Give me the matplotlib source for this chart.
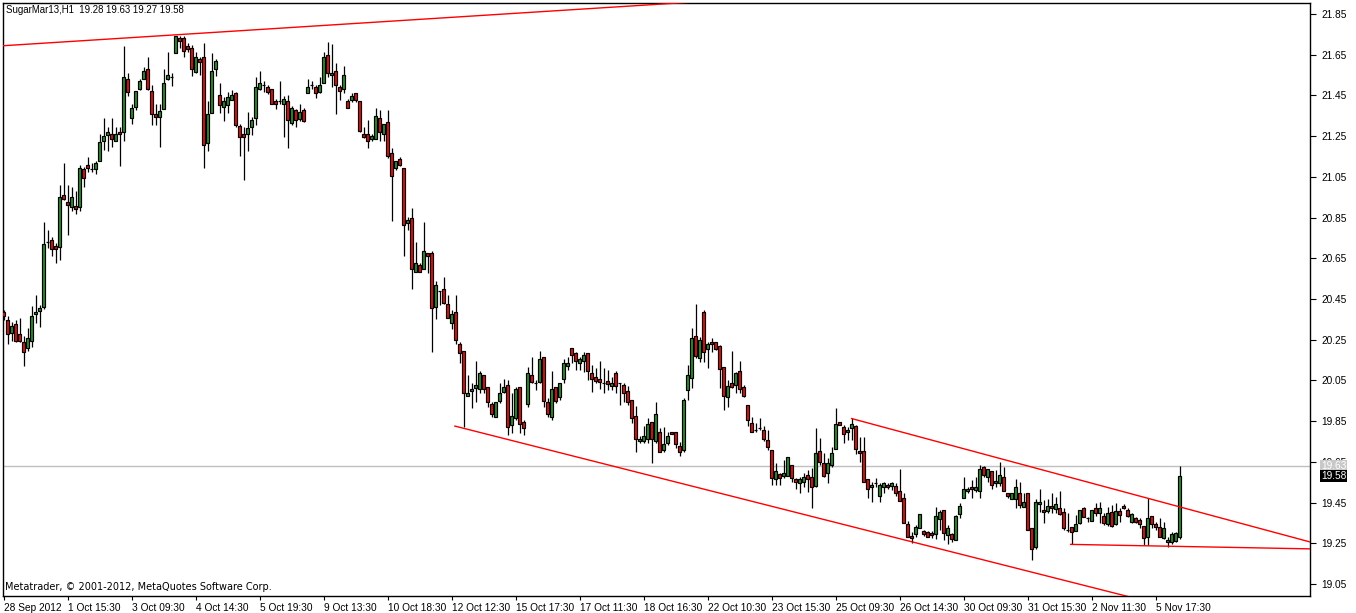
import matplotlib
matplotlib.use("Agg")
import matplotlib.pyplot as plt
import matplotlib.transforms as mtransforms
import numpy as np

# ---------------- data ----------------
symbol_title = "SugarMar13,H1  19.28 19.63 19.27 19.58"
copyright_text = "Metatrader, \u00a9 2001-2012, MetaQuotes Software Corp."

opens = [
    20.388, 20.347, 20.284, 20.325, 20.278, 20.237, 20.208, 20.245, 20.375, 20.393,
    20.412, 20.729, 20.740, 20.710, 20.707, 20.961, 20.926, 20.903, 20.907, 20.903,
    21.087, 21.106, 21.087, 21.087, 21.126, 21.228, 21.257, 21.259, 21.227, 21.270,
    21.268, 21.529, 21.337, 21.394, 21.480, 21.529, 21.578, 21.470, 21.357, 21.345,
    21.385, 21.529, 21.539, 21.660, 21.732, 21.730, 21.692, 21.681, 21.566, 21.627,
    21.637, 21.218, 21.365, 21.578, 21.450, 21.394, 21.404, 21.430, 21.460, 21.300,
    21.260, 21.259, 21.296, 21.337, 21.480, 21.500, 21.489, 21.480, 21.422, 21.422,
    21.406, 21.422, 21.316, 21.378, 21.335, 21.378, 21.460, 21.501, 21.489, 21.468,
    21.509, 21.647, 21.548, 21.568, 21.489, 21.480, 21.422, 21.427, 21.460, 21.422,
    21.259, 21.259, 21.237, 21.237, 21.337, 21.259, 21.319, 21.165, 21.095, 21.136,
    21.096, 20.825, 20.846, 20.584, 20.617, 20.596, 20.674, 20.674, 20.412, 20.488,
    20.497, 20.425, 20.334, 20.384, 20.229, 20.195, 19.975, 19.997, 20.015, 20.006,
    20.075, 20.016, 19.933, 19.872, 19.951, 19.995, 20.028, 19.832, 19.864, 20.016,
    19.844, 19.933, 20.075, 20.036, 20.044, 20.164, 19.943, 19.872, 20.016, 19.967,
    20.056, 20.123, 20.208, 20.183, 20.134, 20.144, 20.183, 20.085, 20.065, 20.056,
    20.036, 20.047, 20.024, 20.085, 20.036, 20.026, 19.998, 19.954, 19.875, 19.754,
    19.754, 19.765, 19.844, 19.754, 19.795, 19.711, 19.744, 19.795, 19.795, 19.728,
    19.708, 20.001, 20.063, 20.268, 20.162, 20.386, 20.207, 20.240, 20.237, 20.219,
    20.114, 19.967, 20.036, 20.027, 20.096, 20.019, 19.932, 19.842, 19.806, 19.815,
    19.806, 19.757, 19.711, 19.564, 19.593, 19.582, 19.582, 19.634, 19.564, 19.545,
    19.553, 19.585, 19.574, 19.533, 19.704, 19.646, 19.594, 19.635, 19.712, 19.844,
    19.823, 19.795, 19.815, 19.826, 19.704, 19.704, 19.564, 19.525, 19.545, 19.484,
    19.525, 19.537, 19.533, 19.533, 19.507, 19.471, 19.343, 19.286, 19.294, 19.324,
    19.312, 19.304, 19.302, 19.294, 19.370, 19.414, 19.291, 19.294, 19.266, 19.392,
    19.471, 19.507, 19.525, 19.512, 19.507, 19.623, 19.574, 19.605, 19.545, 19.545,
    19.574, 19.496, 19.466, 19.466, 19.499, 19.430, 19.499, 19.324, 19.231, 19.442,
    19.414, 19.409, 19.433, 19.417, 19.422, 19.404, 19.316, 19.329, 19.312, 19.352,
    19.422, 19.373, 19.361, 19.422, 19.401, 19.384, 19.345, 19.405, 19.345, 19.410,
    19.433, 19.414, 19.353, 19.376, 19.365, 19.335, 19.283, 19.384, 19.345, 19.332,
    19.275, 19.255, 19.255, 19.263, 19.28,
]

highs = [
    20.396, 20.368, 20.339, 20.347, 20.357, 20.268, 20.306, 20.415, 20.469, 20.420,
    20.830, 20.789, 20.756, 20.723, 21.010, 21.116, 21.010, 21.002, 20.980, 21.108,
    21.100, 21.146, 21.116, 21.128, 21.260, 21.337, 21.296, 21.337, 21.296, 21.296,
    21.692, 21.561, 21.408, 21.470, 21.529, 21.588, 21.637, 21.501, 21.408, 21.408,
    21.578, 21.663, 21.561, 21.742, 21.742, 21.742, 21.706, 21.697, 21.665, 21.637,
    21.709, 21.424, 21.660, 21.630, 21.509, 21.444, 21.468, 21.476, 21.468, 21.308,
    21.296, 21.370, 21.342, 21.539, 21.570, 21.522, 21.501, 21.480, 21.432, 21.520,
    21.448, 21.452, 21.398, 21.383, 21.408, 21.390, 21.529, 21.520, 21.501, 21.539,
    21.663, 21.710, 21.702, 21.607, 21.501, 21.597, 21.432, 21.460, 21.463, 21.422,
    21.296, 21.329, 21.259, 21.386, 21.378, 21.308, 21.378, 21.190, 21.127, 21.146,
    21.096, 20.854, 20.895, 20.730, 20.625, 20.828, 20.677, 20.687, 20.540, 20.488,
    20.556, 20.468, 20.396, 20.468, 20.237, 20.195, 20.077, 20.036, 20.147, 20.098,
    20.075, 20.016, 19.943, 19.943, 20.036, 20.056, 20.052, 19.987, 20.016, 20.016,
    19.856, 20.115, 20.164, 20.052, 20.195, 20.164, 19.962, 20.098, 20.016, 20.036,
    20.154, 20.164, 20.208, 20.191, 20.167, 20.191, 20.183, 20.126, 20.110, 20.147,
    20.109, 20.101, 20.065, 20.098, 20.036, 20.036, 20.022, 19.954, 19.924, 19.777,
    19.826, 19.864, 19.847, 19.942, 19.815, 19.823, 19.798, 19.795, 19.795, 19.749,
    19.962, 20.126, 20.309, 20.425, 20.265, 20.396, 20.240, 20.257, 20.240, 20.224,
    20.114, 20.052, 20.194, 20.093, 20.145, 20.027, 19.932, 19.872, 19.839, 19.864,
    19.826, 19.806, 19.711, 19.643, 19.597, 19.659, 19.672, 19.634, 19.572, 19.577,
    19.594, 19.610, 19.618, 19.815, 19.766, 19.692, 19.667, 19.725, 19.913, 19.844,
    19.831, 19.823, 19.864, 19.831, 19.774, 19.774, 19.564, 19.553, 19.569, 19.545,
    19.553, 19.545, 19.553, 19.545, 19.615, 19.496, 19.361, 19.307, 19.340, 19.392,
    19.315, 19.312, 19.312, 19.430, 19.414, 19.414, 19.340, 19.302, 19.389, 19.446,
    19.574, 19.525, 19.561, 19.574, 19.635, 19.630, 19.613, 19.605, 19.610, 19.648,
    19.623, 19.499, 19.499, 19.564, 19.553, 19.496, 19.499, 19.324, 19.466, 19.515,
    19.463, 19.466, 19.499, 19.476, 19.509, 19.422, 19.397, 19.329, 19.389, 19.414,
    19.427, 19.381, 19.414, 19.450, 19.455, 19.397, 19.430, 19.438, 19.446, 19.422,
    19.443, 19.422, 19.397, 19.381, 19.373, 19.335, 19.471, 19.384, 19.356, 19.373,
    19.356, 19.279, 19.307, 19.307, 19.63,
]

lows = [
    20.347, 20.227, 20.245, 20.237, 20.237, 20.122, 20.196, 20.216, 20.334, 20.314,
    20.400, 20.699, 20.661, 20.625, 20.641, 20.936, 20.764, 20.884, 20.866, 20.882,
    20.998, 21.075, 21.075, 21.064, 21.126, 21.182, 21.178, 21.198, 21.227, 21.105,
    21.226, 21.448, 21.308, 21.378, 21.476, 21.529, 21.476, 21.304, 21.304, 21.198,
    21.385, 21.525, 21.498, 21.660, 21.681, 21.637, 21.663, 21.545, 21.561, 21.550,
    21.096, 21.178, 21.365, 21.545, 21.365, 21.326, 21.365, 21.430, 21.296, 21.154,
    21.034, 21.178, 21.255, 21.304, 21.476, 21.468, 21.457, 21.406, 21.385, 21.406,
    21.247, 21.190, 21.304, 21.296, 21.326, 21.318, 21.460, 21.480, 21.439, 21.460,
    21.509, 21.539, 21.489, 21.357, 21.430, 21.460, 21.386, 21.419, 21.419, 21.272,
    21.239, 21.190, 21.228, 21.237, 21.228, 21.228, 21.144, 20.835, 21.083, 21.103,
    20.663, 20.789, 20.497, 20.584, 20.584, 20.596, 20.576, 20.191, 20.353, 20.420,
    20.425, 20.355, 20.302, 20.229, 20.134, 19.823, 19.975, 19.913, 19.943, 19.987,
    19.990, 19.921, 19.872, 19.872, 19.938, 19.987, 19.782, 19.790, 19.856, 19.790,
    19.782, 19.921, 20.036, 20.003, 20.036, 19.921, 19.872, 19.856, 19.938, 19.954,
    20.036, 20.102, 20.134, 20.102, 20.102, 20.093, 20.052, 19.995, 20.036, 20.006,
    19.987, 20.003, 20.003, 19.987, 19.929, 19.946, 19.932, 19.839, 19.700, 19.744,
    19.744, 19.744, 19.643, 19.744, 19.700, 19.700, 19.733, 19.785, 19.716, 19.679,
    19.700, 19.954, 20.011, 20.158, 20.142, 20.142, 20.109, 20.191, 20.199, 20.011,
    19.905, 19.921, 20.011, 19.987, 19.987, 19.970, 19.826, 19.795, 19.798, 19.806,
    19.754, 19.708, 19.536, 19.536, 19.536, 19.569, 19.582, 19.549, 19.517, 19.495,
    19.528, 19.504, 19.422, 19.525, 19.635, 19.574, 19.545, 19.627, 19.712, 19.833,
    19.741, 19.758, 19.758, 19.689, 19.651, 19.553, 19.471, 19.451, 19.525, 19.451,
    19.496, 19.515, 19.512, 19.484, 19.460, 19.352, 19.280, 19.250, 19.280, 19.324,
    19.286, 19.280, 19.275, 19.270, 19.316, 19.266, 19.247, 19.258, 19.266, 19.373,
    19.471, 19.496, 19.471, 19.504, 19.471, 19.574, 19.553, 19.515, 19.525, 19.532,
    19.507, 19.471, 19.466, 19.422, 19.422, 19.430, 19.316, 19.168, 19.221, 19.406,
    19.352, 19.398, 19.398, 19.398, 19.389, 19.316, 19.307, 19.245, 19.312, 19.345,
    19.378, 19.356, 19.361, 19.384, 19.352, 19.340, 19.335, 19.329, 19.340, 19.357,
    19.417, 19.381, 19.351, 19.351, 19.324, 19.242, 19.242, 19.324, 19.316, 19.283,
    19.270, 19.230, 19.245, 19.258, 19.27,
]

closes = [
    20.366, 20.276, 20.317, 20.245, 20.245, 20.191, 20.257, 20.366, 20.388, 20.407,
    20.720, 20.730, 20.695, 20.697, 20.949, 20.939, 20.913, 20.949, 20.893, 21.096,
    21.044, 21.096, 21.087, 21.116, 21.219, 21.250, 21.268, 21.237, 21.259, 21.259,
    21.539, 21.468, 21.386, 21.470, 21.520, 21.568, 21.480, 21.357, 21.345, 21.376,
    21.511, 21.550, 21.539, 21.742, 21.719, 21.670, 21.679, 21.578, 21.637, 21.614,
    21.209, 21.357, 21.568, 21.617, 21.404, 21.422, 21.442, 21.452, 21.304, 21.247,
    21.247, 21.288, 21.329, 21.489, 21.509, 21.501, 21.466, 21.406, 21.406, 21.422,
    21.432, 21.329, 21.386, 21.329, 21.367, 21.326, 21.489, 21.501, 21.460, 21.501,
    21.637, 21.558, 21.558, 21.499, 21.470, 21.548, 21.386, 21.448, 21.427, 21.277,
    21.247, 21.228, 21.250, 21.349, 21.268, 21.308, 21.154, 21.056, 21.127, 21.106,
    20.816, 20.838, 20.596, 20.625, 20.584, 20.686, 20.663, 20.404, 20.517, 20.488,
    20.432, 20.355, 20.375, 20.248, 20.183, 19.987, 19.987, 20.008, 20.028, 20.085,
    20.006, 19.943, 19.884, 19.943, 19.987, 20.016, 19.823, 19.876, 20.008, 19.835,
    19.815, 20.085, 20.044, 20.036, 20.155, 19.951, 19.884, 20.006, 19.951, 20.036,
    20.135, 20.138, 20.174, 20.144, 20.155, 20.174, 20.095, 20.056, 20.046, 20.044,
    20.036, 20.034, 20.036, 20.024, 20.036, 19.987, 19.942, 19.864, 19.765, 19.765,
    19.777, 19.834, 19.765, 19.885, 19.700, 19.737, 19.777, 19.785, 19.736, 19.700,
    19.954, 20.077, 20.257, 20.171, 20.248, 20.191, 20.229, 20.227, 20.207, 20.104,
    19.975, 20.024, 20.016, 20.085, 20.006, 19.975, 19.856, 19.795, 19.806, 19.815,
    19.765, 19.724, 19.572, 19.605, 19.572, 19.594, 19.672, 19.572, 19.553, 19.564,
    19.574, 19.564, 19.525, 19.695, 19.651, 19.582, 19.646, 19.692, 19.834, 19.833,
    19.785, 19.807, 19.834, 19.712, 19.692, 19.553, 19.515, 19.537, 19.545, 19.537,
    19.545, 19.525, 19.545, 19.496, 19.460, 19.352, 19.283, 19.275, 19.332, 19.392,
    19.294, 19.283, 19.293, 19.384, 19.402, 19.302, 19.324, 19.271, 19.384, 19.433,
    19.515, 19.515, 19.515, 19.525, 19.613, 19.586, 19.613, 19.537, 19.556, 19.586,
    19.507, 19.484, 19.499, 19.525, 19.438, 19.455, 19.316, 19.221, 19.455, 19.455,
    19.402, 19.433, 19.422, 19.443, 19.393, 19.324, 19.316, 19.307, 19.345, 19.414,
    19.381, 19.373, 19.414, 19.401, 19.422, 19.352, 19.397, 19.335, 19.410, 19.389,
    19.422, 19.384, 19.392, 19.357, 19.345, 19.275, 19.373, 19.345, 19.332, 19.283,
    19.324, 19.266, 19.294, 19.302, 19.58,
]

time_labels = [
    "28 Sep 2012", "1 Oct 15:30", "3 Oct 09:30", "4 Oct 14:30", "5 Oct 19:30",
    "9 Oct 13:30", "10 Oct 18:30", "12 Oct 12:30", "15 Oct 17:30", "17 Oct 11:30",
    "18 Oct 16:30", "22 Oct 10:30", "23 Oct 15:30", "25 Oct 09:30", "26 Oct 14:30",
    "30 Oct 09:30", "31 Oct 15:30", "2 Nov 11:30", "5 Nov 17:30",
]
label_every = 16  # bars between time labels

price_ticks = [19.05, 19.25, 19.45, 19.65, 19.85, 20.05, 20.25, 20.45, 20.65,
               20.85, 21.05, 21.25, 21.45, 21.65, 21.85]

# trend lines: (bar index, price) anchor pairs, drawn as rays to the right
trend_lines = [
    ((-1.0, 21.693), (163.0, 21.897)),
    ((112.8, 19.826), (279.1, 18.999)),
    ((212.0, 19.863), (326.6, 19.257)),
    ((266.75, 19.245), (326.6, 19.223)),
]
ask_price = 19.63
bid_price = 19.58

# ---------------- drawing ----------------
LAB_FONT = ["Liberation Sans", "DejaVu Sans"]
W, H = 1356, 613
fig = plt.figure(figsize=(W / 100, H / 100), dpi=100)
left, right, top, bottom = 2.5, 1310, 3, 596
ax = fig.add_axes([left / W, 1 - bottom / H, (right - left) / W, (bottom - top) / H])

n = min(len(opens), len(highs), len(lows), len(closes))
x = np.arange(n)
o = np.array(opens[:n]); h = np.array(highs[:n]); l = np.array(lows[:n]); c = np.array(closes[:n])

ax.axhline(ask_price, color="#c0c0c0", lw=1.0, zorder=1)

ax.vlines(x, l, h, color="black", lw=0.9, zorder=2)
bull = c >= o
body_h = np.where(np.abs(c - o) < 1e-9, 0.0, c - o)
colors = np.where(bull, "#2e8b2e", "#e01010")
ax.bar(x, body_h, bottom=o, width=0.72, color=colors, edgecolor="black",
       linewidth=0.85, zorder=3)

xmin, xmax = -0.3, 326.6
for (x0, y0), (x1, y1) in trend_lines:
    slope = (y1 - y0) / (x1 - x0)
    xe = xmax + 2
    ax.plot([x0, xe], [y0, y0 + slope * (xe - x0)], color="red", lw=1.0, zorder=4)

ax.set_xlim(xmin, xmax)
ax.set_ylim(18.9915, 21.904)

ax.yaxis.tick_right()
ax.set_yticks(price_ticks)
ax.set_yticklabels([f"{v:.2f}" for v in price_ticks], family=LAB_FONT)
ax.tick_params(axis="y", direction="out", length=4, width=0.8, pad=4,
               labelsize=7.3, colors="black")

xt = [i * label_every for i in range(len(time_labels))]
ax.set_xticks(xt)
ax.set_xticklabels(time_labels, family=LAB_FONT)
for lab in ax.get_xticklabels():
    lab.set_ha("left")
ax.tick_params(axis="x", direction="out", length=3, width=0.8, pad=2,
               labelsize=7.3, colors="black")

for sp in ax.spines.values():
    sp.set_color("black")
    sp.set_linewidth(1.0)

trans = mtransforms.blended_transform_factory(ax.transAxes, ax.transData)
ax.text(1.0085, ask_price, f"{ask_price:.2f}", transform=trans, fontsize=7.3,
        family=LAB_FONT, color="white", va="center", ha="left", clip_on=False,
        zorder=10, bbox=dict(facecolor="#c8c8c8", edgecolor="none", pad=0.6))
ax.text(1.0085, bid_price, f"{bid_price:.2f}", transform=trans, fontsize=7.3,
        family=LAB_FONT, color="white", va="center", ha="left", clip_on=False,
        zorder=11, bbox=dict(facecolor="black", edgecolor="none", pad=0.6))

fig.text(6 / W, 1 - 10 / H, symbol_title, fontsize=6.9, family=LAB_FONT,
         va="center", ha="left")
fig.text(5 / W, 1 - 587 / H, copyright_text, fontsize=7, va="center", ha="left")

fig.savefig("out.png", dpi=100, facecolor="white")
